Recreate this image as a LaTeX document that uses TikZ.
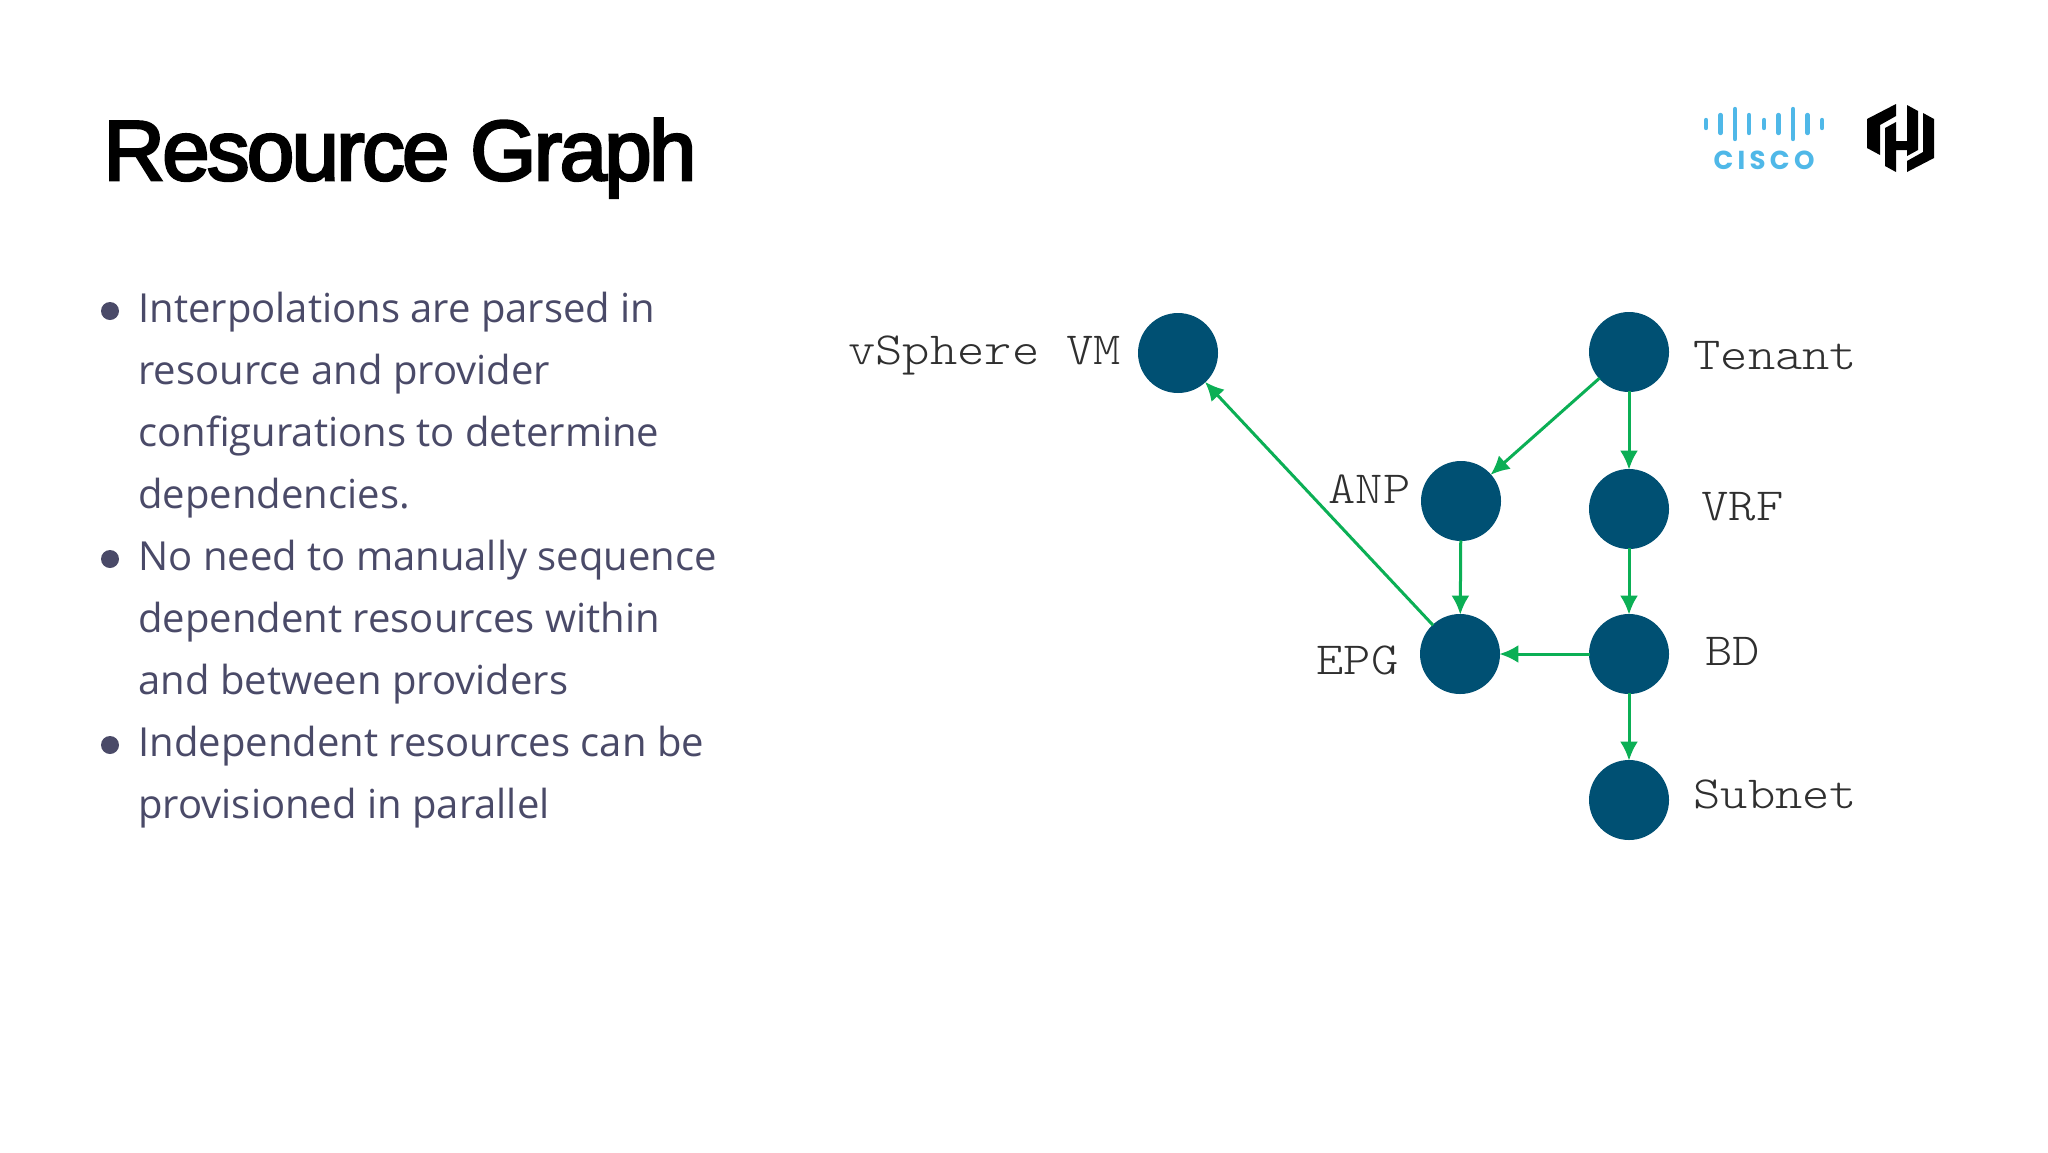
\documentclass[tikz,border=0pt]{standalone}
\usepackage{fontspec}
\setmainfont{Open Sans}
\newfontfamily\titlefont[FakeBold=3.2,LetterSpace=-3]{Liberation Sans}
\newfontfamily\labelfont[FakeStretch=1.13]{Latin Modern Mono Light}
\newfontfamily\ciscofont{Poppins}
\usetikzlibrary{arrows.meta}
\definecolor{nodeblue}{HTML}{005073}
\definecolor{edgegreen}{HTML}{0BAF55}
\definecolor{bodyink}{HTML}{4A4A68}
\definecolor{labelink}{HTML}{2F2F2F}
\definecolor{ciscoblue}{HTML}{4FB8E8}
\tikzset{
  res/.style={circle,fill=nodeblue,minimum size=40pt,inner sep=0pt},
  dep/.style={draw=edgegreen,line width=1.5pt,-{Latex[length=9.5pt,width=9pt]},shorten >=-0.5pt,shorten <=-0.5pt},
  lbl/.style={font=\labelfont\fontsize{23}{23}\selectfont,text=labelink,inner sep=0pt,anchor=base west},
  body/.style={font=\fontsize{20}{20}\selectfont,text=bodyink,inner sep=0pt,anchor=base west},
  dot/.style={circle,fill=bodyink,minimum size=9pt,inner sep=0pt},
  bar/.style={line width=2.2pt,draw=ciscoblue,line cap=round},
  hlogo/.style={fill=black,draw=none}
}
\begin{document}
\begin{tikzpicture}[x=0.5pt,y=-0.5pt]
\useasboundingbox (0,0) rectangle (2048,1152);
\fill[white] (0,0) rectangle (2048,1152);
\node[font=\titlefont\fontsize{42.5}{42.5}\selectfont,inner sep=0pt,anchor=base west,text=black] (title) at (103,180) {Resource Graph};
\foreach \n/\y/\t in {a/322/Interpolations are parsed in,b/384/resource and provider,c/446/configurations to determine,d/508/dependencies.,e/570/No need to manually sequence,f/632/dependent resources within,g/694/and between providers,h/756/Independent resources can be,i/818/provisioned in parallel}
  \node[body] (t\n) at (138,\y) {\t};
\node[dot] (d1) at (110,311) {};
\node[dot] (d2) at (110,559) {};
\node[dot] (d3) at (110,745) {};
\node[res] (vm) at (1178,353) {};
\node[res] (tenant) at (1629,352) {};
\node[res] (anp) at (1461,501) {};
\node[res] (vrf) at (1629,509) {};
\node[res] (epg) at (1460,654) {};
\node[res] (bd) at (1629,654) {};
\node[res] (subnet) at (1629,800) {};
\node[lbl] (lvm) at (848,364) {vSphere VM};
\node[lbl] (lten) at (1693,369) {Tenant};
\node[lbl] (lanp) at (1328,503) {ANP};
\node[lbl] (lvrf) at (1701,520) {VRF};
\node[lbl] (lepg) at (1316,674) {EPG};
\node[lbl] (lbd) at (1705,665) {BD};
\node[lbl] (lsub) at (1693,808) {Subnet};
\draw[dep] (tenant) -- (anp);
\draw[dep] (tenant) -- (vrf);
\draw[dep] (vrf) -- (bd);
\draw[dep] (anp) -- (epg);
\draw[dep] (bd) -- (epg);
\draw[dep] (bd) -- (subnet);
\draw[dep] (epg) -- (vm);
\foreach \x/\h in {1706/4,1720.5/9,1735/15,1749/9,1764/4,1778.5/9,1793/15,1807.5/9,1822/4}
  \draw[bar] (\x,124-\h) -- (\x,124+\h);
\node[font=\ciscofont\bfseries\fontsize{13}{13}\selectfont,text=ciscoblue,inner sep=0pt,anchor=base] (cisco) at (1764,169) {C\,I\,S\,C\,O};
\fill[hlogo] (1867,119) -- (1896,104) -- (1896,116) -- (1880,125) -- (1880,155) -- (1867,148) -- cycle;
\fill[hlogo] (1885,128) -- (1896,122) -- (1896,141) -- (1907,141) -- (1907,105) -- (1918,111) -- (1918,150) -- (1907,156) -- (1907,150) -- (1896,150) -- (1896,172) -- (1885,166) -- cycle;
\fill[hlogo] (1934,119) -- (1934,158) -- (1907,172) -- (1907,161) -- (1923,152) -- (1923,113) -- cycle;
\end{tikzpicture}
\end{document}
